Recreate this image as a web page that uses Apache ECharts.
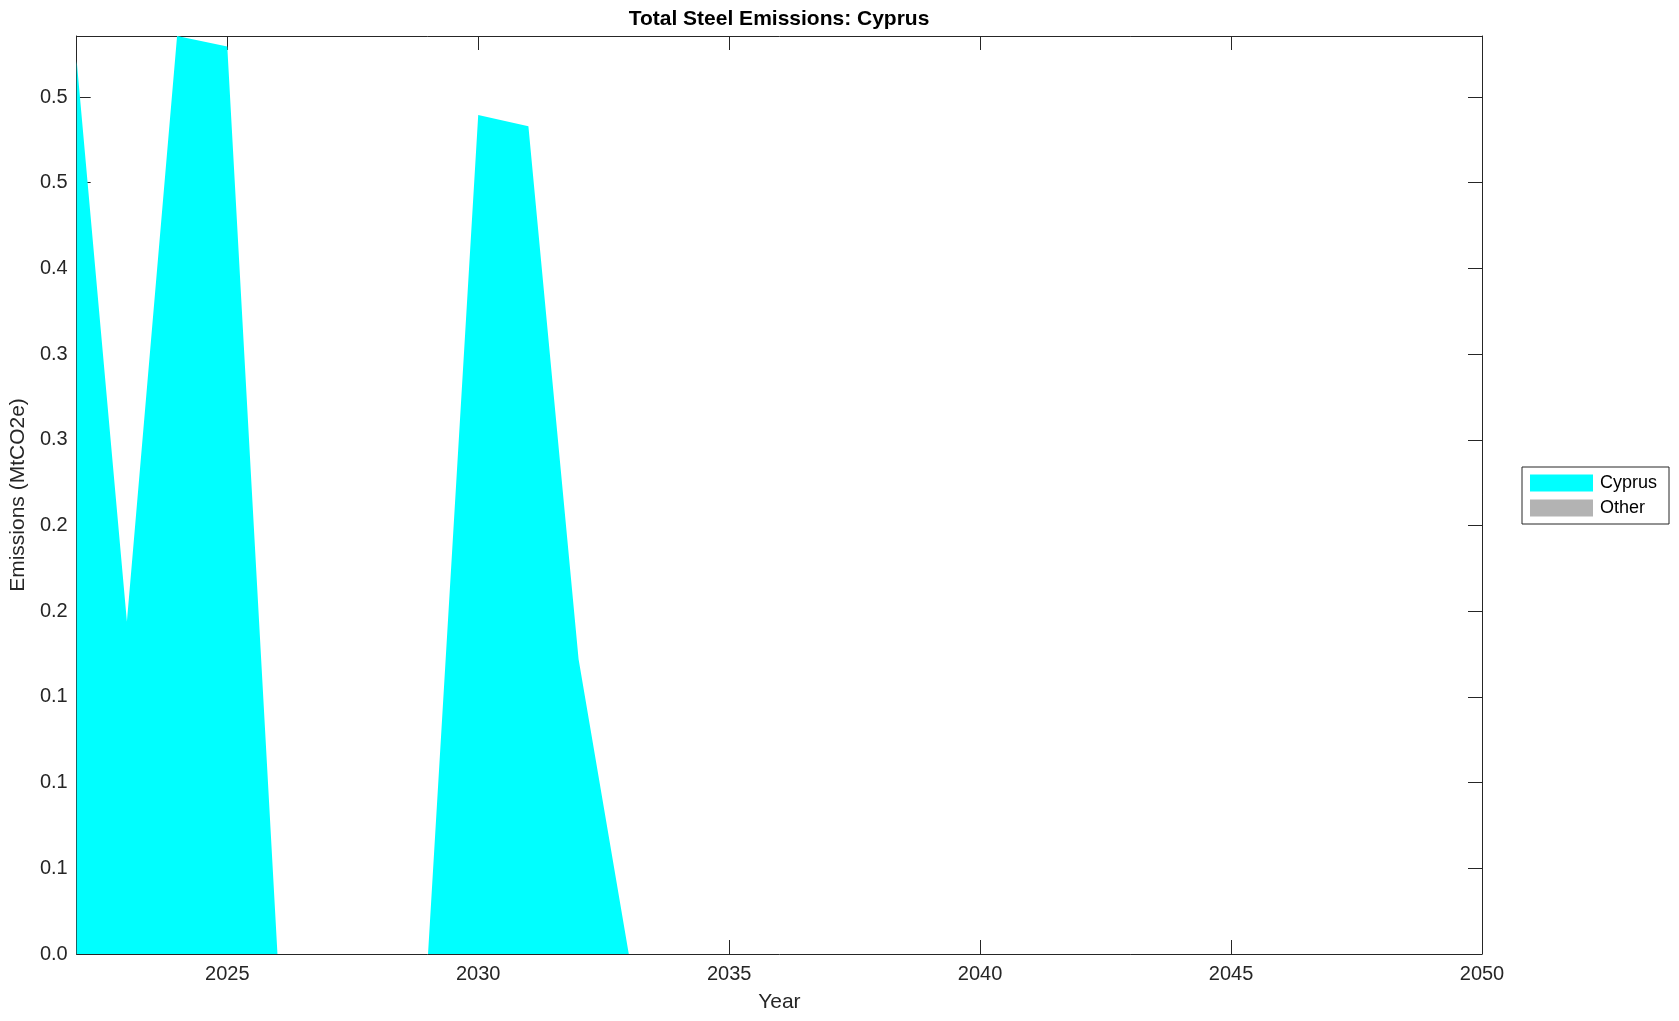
<!DOCTYPE html>
<html>
<head>
<meta charset="utf-8">
<script src="https://cdn.jsdelivr.net/npm/echarts@6/dist/echarts.min.js"></script>
<style>html,body{margin:0;padding:0;background:#fff;}#c{width:1679px;height:1021px;}</style>
</head>
<body>
<div id="c"></div>
<script>
const years = [2022,2023,2024,2025,2026,2027,2028,2029,2030,2031,2032,2033,2034,2035,2036,2037,2038,2039,2040,2041,2042,2043,2044,2045,2046,2047,2048,2049,2050];
const cyprus = [0.521,0.194,0.5356,0.5295,0,0,0,0,0.4895,0.4829,0.172,0,0,0,0,0,0,0,0,0,0,0,0,0,0,0,0,0,0];
const other = [0,0,0,0,0,0,0,0,0,0,0,0,0,0,0,0,0,0,0,0,0,0,0,0,0,0,0,0,0];
const xTicks = [2025,2030,2035,2040,2045,2050];
const yTicks = [0,0.05,0.1,0.15,0.2,0.25,0.3,0.35,0.4,0.45,0.5];
const yTickLabels = ['0.0','0.1','0.1','0.1','0.2','0.2','0.3','0.3','0.4','0.5','0.5'];

const FONT = '"Liberation Sans", Arial, Helvetica, sans-serif';
const AX = '#262626';
const chart = echarts.init(document.getElementById('c'), null, {renderer:'canvas'});
const yLabel = v => { const i = yTicks.findIndex(t => Math.abs(t - v) < 1e-9); return i >= 0 ? yTickLabels[i] : ''; };
const baseAxisLine = {show:true, onZero:false, lineStyle:{color:AX, width:1}};
chart.setOption({
  animation:false,
  backgroundColor:'#ffffff',
  title:{text:'Total Steel Emissions: Cyprus', left:779, top:9, padding:0, textAlign:'center',
    textStyle:{fontFamily:FONT, fontSize:21, fontWeight:'bold', color:'#000'}},
  grid:{left:76, right:197, top:36, bottom:67, containLabel:false},
  legend:{orient:'vertical', left:1522, top:467, padding:[7,12,7,8], itemGap:7,
    itemWidth:63, itemHeight:17, icon:'rect', borderColor:AX, borderWidth:1, backgroundColor:'#fff',
    textStyle:{fontFamily:FONT, fontSize:18, color:'#000', padding:[0,0,0,2]},
    data:['Cyprus','Other']},
  xAxis:[{type:'value', min:2022, max:2050, position:'bottom',
    name:'Year', nameLocation:'middle', nameGap:38,
    nameTextStyle:{fontFamily:FONT, fontSize:21, color:AX},
    axisLine:baseAxisLine, splitLine:{show:false},
    axisTick:{show:true, inside:true, length:14, customValues:xTicks, lineStyle:{color:AX}},
    axisLabel:{show:true, customValues:xTicks, formatter:v => String(v), margin:10, fontFamily:FONT, fontSize:20, color:AX}},
    {type:'value', min:2022, max:2050, position:'top',
    axisLine:baseAxisLine, splitLine:{show:false},
    axisTick:{show:true, inside:true, length:14, customValues:xTicks, lineStyle:{color:AX}},
    axisLabel:{show:false}}],
  yAxis:[{type:'value', min:0, max:0.5356, position:'left',
    name:'Emissions (MtCO2e)', nameLocation:'middle', nameGap:42,
    nameTextStyle:{fontFamily:FONT, fontSize:21, color:AX},
    axisLine:baseAxisLine, splitLine:{show:false},
    axisTick:{show:true, inside:true, length:14, customValues:yTicks, lineStyle:{color:AX}},
    axisLabel:{show:true, customValues:yTicks, formatter:yLabel, margin:9, fontFamily:FONT, fontSize:20, color:AX}},
    {type:'value', min:0, max:0.5356, position:'right',
    axisLine:baseAxisLine, splitLine:{show:false},
    axisTick:{show:true, inside:true, length:14, customValues:yTicks, lineStyle:{color:AX}},
    axisLabel:{show:false}}],
  series:[
    {name:'Cyprus', type:'line', stack:'total', symbol:'none', xAxisIndex:0, yAxisIndex:0,
     lineStyle:{width:0, opacity:0}, itemStyle:{color:'#00ffff'}, areaStyle:{color:'#00ffff', opacity:1},
     data:years.map((y,i)=>[y,cyprus[i]]), z:2},
    {name:'Other', type:'line', stack:'total', symbol:'none', xAxisIndex:0, yAxisIndex:0,
     lineStyle:{width:0, opacity:0}, itemStyle:{color:'#b3b3b3'}, areaStyle:{color:'#b3b3b3', opacity:1},
     data:years.map((y,i)=>[y,other[i]]), z:2}
  ]
});
</script>
</body>
</html>
